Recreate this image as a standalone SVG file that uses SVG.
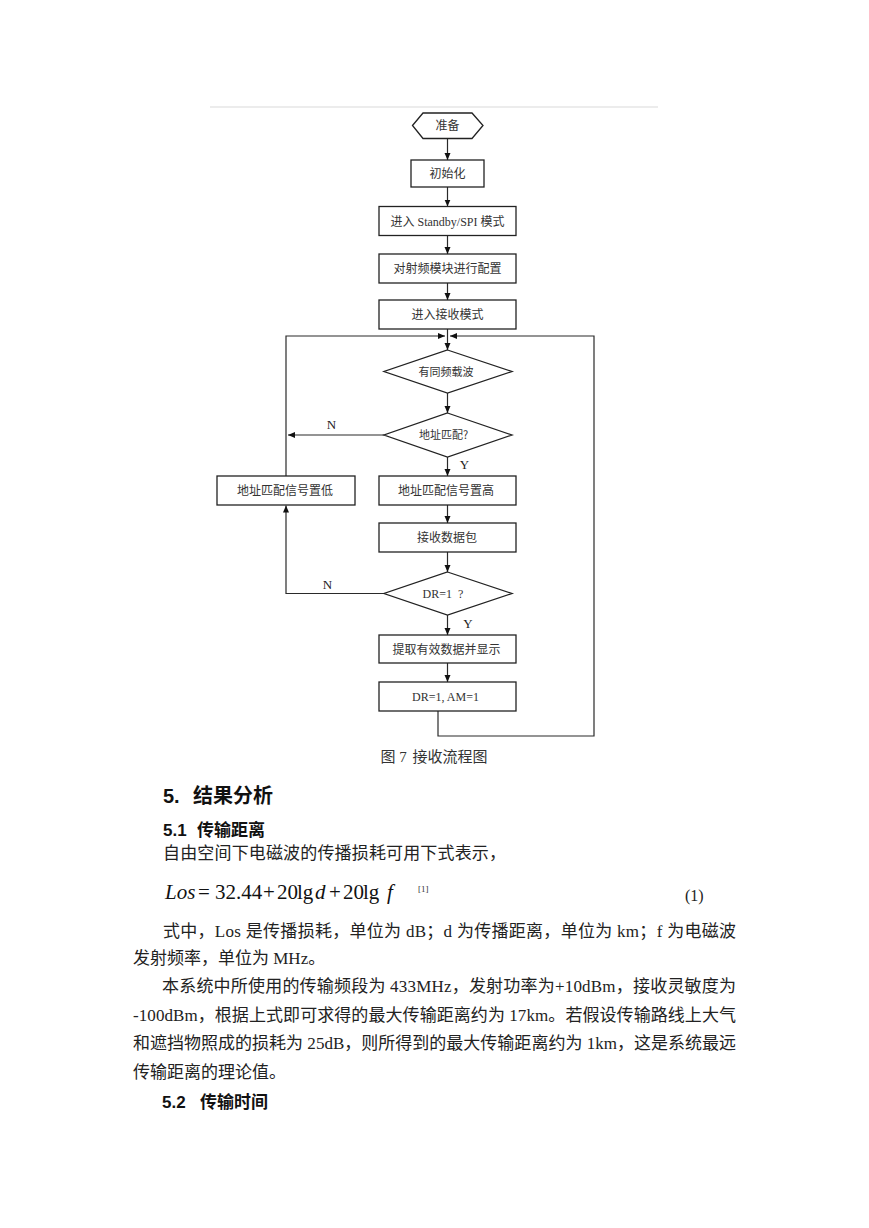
<svg xmlns="http://www.w3.org/2000/svg" width="869" height="1228" viewBox="0 0 869 1228">
<style>
.box{fill:#fff;stroke:#222;stroke-width:1.3}
.ln{fill:none;stroke:#2a2a2a;stroke-width:1.2}
.ft{font-family:"Noto Sans CJK SC",sans-serif;font-size:12px;fill:#333;text-anchor:middle}
.fs{font-family:"Noto Sans CJK SC",sans-serif;font-size:11px;fill:#333;text-anchor:middle}
.fl{font-family:"Liberation Serif","Noto Sans CJK SC",serif;font-size:12px;fill:#333;text-anchor:middle}
.yn{font-family:"Liberation Serif",serif;font-size:13px;fill:#222;text-anchor:middle}
.body{font-family:"Liberation Serif","Noto Sans CJK SC",serif;font-size:17px;fill:#222}
.cap{font-family:"Liberation Serif","Noto Sans CJK SC",serif;font-size:15px;fill:#333;text-anchor:middle}
.hd{font-family:"Liberation Sans","Noto Sans CJK SC",sans-serif;font-weight:700;fill:#111}
.math{font-family:"Liberation Serif",serif;font-size:21px;fill:#111}
.sup{font-family:"Liberation Serif",serif;font-size:9px;fill:#333}
.eqn{font-family:"Liberation Serif",serif;font-size:16px;fill:#222}
</style>
<defs>
<marker id="ah" markerUnits="userSpaceOnUse" markerWidth="8" markerHeight="8" refX="7" refY="3" orient="auto">
<path d="M0,0 L7,3 L0,6 z" fill="#111"/>
</marker>
</defs>
<rect width="869" height="1228" fill="#fff"/>
<line x1="210" y1="107" x2="658" y2="107" stroke="#ececec" stroke-width="2"/>

<g id="connectors">
<line class="ln" x1="447.5" y1="139" x2="447.5" y2="160" marker-end="url(#ah)"/>
<line class="ln" x1="447.5" y1="187" x2="447.5" y2="206.5" marker-end="url(#ah)"/>
<line class="ln" x1="447.5" y1="235.5" x2="447.5" y2="254" marker-end="url(#ah)"/>
<line class="ln" x1="447.5" y1="283" x2="447.5" y2="300" marker-end="url(#ah)"/>
<line class="ln" x1="447.5" y1="329" x2="447.5" y2="350" marker-end="url(#ah)"/>
<line class="ln" x1="447.5" y1="393" x2="447.5" y2="413" marker-end="url(#ah)"/>
<line class="ln" x1="384" y1="435" x2="288" y2="435" marker-end="url(#ah)"/>
<line class="ln" x1="447.5" y1="457" x2="447.5" y2="476" marker-end="url(#ah)"/>
<polyline class="ln" points="286,476 286,336 445,336" marker-end="url(#ah)"/>
<line class="ln" x1="447.5" y1="505" x2="447.5" y2="523" marker-end="url(#ah)"/>
<line class="ln" x1="447.5" y1="552" x2="447.5" y2="572" marker-end="url(#ah)"/>
<polyline class="ln" points="384,593.5 286,593.5 286,505.5" marker-end="url(#ah)"/>
<line class="ln" x1="447.5" y1="615" x2="447.5" y2="635" marker-end="url(#ah)"/>
<line class="ln" x1="447.5" y1="663" x2="447.5" y2="682" marker-end="url(#ah)"/>
<polyline class="ln" points="438,711 438,736 594,736 594,336 450,336" marker-end="url(#ah)"/>
<text class="yn" x="331.5" y="429">N</text>
<text class="yn" x="464.5" y="469">Y</text>
<text class="yn" x="327.5" y="589">N</text>
<text class="yn" x="468" y="628">Y</text>
</g>

<g id="n-start">
<polygon class="box" points="412.5,125.5 423,113 472,113 483,125.5 472,138.5 423,138.5"/>
<text class="ft" x="447.5" y="130">准备</text>
</g>
<g id="n-init">
<rect class="box" x="411" y="160" width="73" height="27"/>
<text class="ft" x="447.5" y="178">初始化</text>
</g>
<g id="n-standby">
<rect class="box" x="379" y="206.5" width="137" height="29"/>
<text class="fl" x="447.5" y="225.5">进入 Standby/SPI 模式</text>
</g>
<g id="n-config">
<rect class="box" x="379" y="254" width="137" height="29"/>
<text class="ft" x="447.5" y="273">对射频模块进行配置</text>
</g>
<g id="n-rxmode">
<rect class="box" x="379" y="300" width="137" height="29"/>
<text class="ft" x="447.5" y="319">进入接收模式</text>
</g>
<g id="n-carrier">
<polygon class="box" points="447.5,350 512,371.5 447.5,393 384,371.5"/>
<text class="fs" x="446" y="375.5">有同频载波</text>
</g>
<g id="n-addr">
<polygon class="box" points="447.5,413 512,435 447.5,457 384,435"/>
<text class="fs" x="443.5" y="439">地址匹配?</text>
</g>
<g id="n-low">
<rect class="box" x="217" y="476" width="138" height="29"/>
<text class="ft" x="285" y="495">地址匹配信号置低</text>
</g>
<g id="n-high">
<rect class="box" x="379" y="476" width="137" height="29"/>
<text class="ft" x="446" y="495">地址匹配信号置高</text>
</g>
<g id="n-recv">
<rect class="box" x="379" y="523" width="137" height="29"/>
<text class="ft" x="447" y="542">接收数据包</text>
</g>
<g id="n-dr">
<polygon class="box" points="447.5,572 512,593.5 447.5,615 384,593.5"/>
<text class="fl" x="443" y="598">DR=1 <tspan dx="3">?</tspan></text>
</g>
<g id="n-extract">
<rect class="box" x="379" y="635" width="137" height="28"/>
<text class="ft" x="446.5" y="653.5">提取有效数据并显示</text>
</g>
<g id="n-set">
<rect class="box" x="379" y="682" width="137" height="29"/>
<text class="fl" x="445.5" y="701">DR=1, AM=1</text>
</g>

<text class="cap" x="434" y="762">图 7 <tspan dx="2">接收流程图</tspan></text>

<text class="hd" x="163" y="803" font-size="20">5.<tspan x="193">结果分析</tspan></text>
<text class="hd" x="163" y="836" font-size="17">5.1<tspan x="197">传输距离</tspan></text>
<text class="body" x="163" y="859" textLength="343" lengthAdjust="spacing">自由空间下电磁波的传播损耗可用下式表示，</text>

<text class="math" y="899"><tspan x="165" font-style="italic">Los</tspan><tspan x="198">=</tspan><tspan x="215">32.44</tspan><tspan x="263">+</tspan><tspan x="277">20</tspan><tspan x="297">lg</tspan><tspan x="315" font-style="italic">d</tspan><tspan x="329">+</tspan><tspan x="343">20</tspan><tspan x="363">lg</tspan><tspan x="387" font-style="italic">f</tspan></text>
<text class="sup" x="418" y="892">[1]</text>
<text class="eqn" x="685" y="901">(1)</text>

<text class="body" x="163" y="937" textLength="573" lengthAdjust="spacing">式中，Los 是传播损耗，单位为 dB；d 为传播距离，单位为 km；f 为电磁波</text>
<text class="body" x="133" y="964">发射频率，单位为 MHz。</text>
<text class="body" x="162" y="992" textLength="574" lengthAdjust="spacing">本系统中所使用的传输频段为 433MHz，发射功率为+10dBm，接收灵敏度为</text>
<text class="body" x="133" y="1021" textLength="603" lengthAdjust="spacing">-100dBm，根据上式即可求得的最大传输距离约为 17km。若假设传输路线上大气</text>
<text class="body" x="133" y="1049" textLength="603" lengthAdjust="spacing">和遮挡物照成的损耗为 25dB，则所得到的最大传输距离约为 1km，这是系统最远</text>
<text class="body" x="133" y="1078">传输距离的理论值。</text>
<text class="hd" x="162" y="1108" font-size="17">5.2<tspan x="200">传输时间</tspan></text>
</svg>
